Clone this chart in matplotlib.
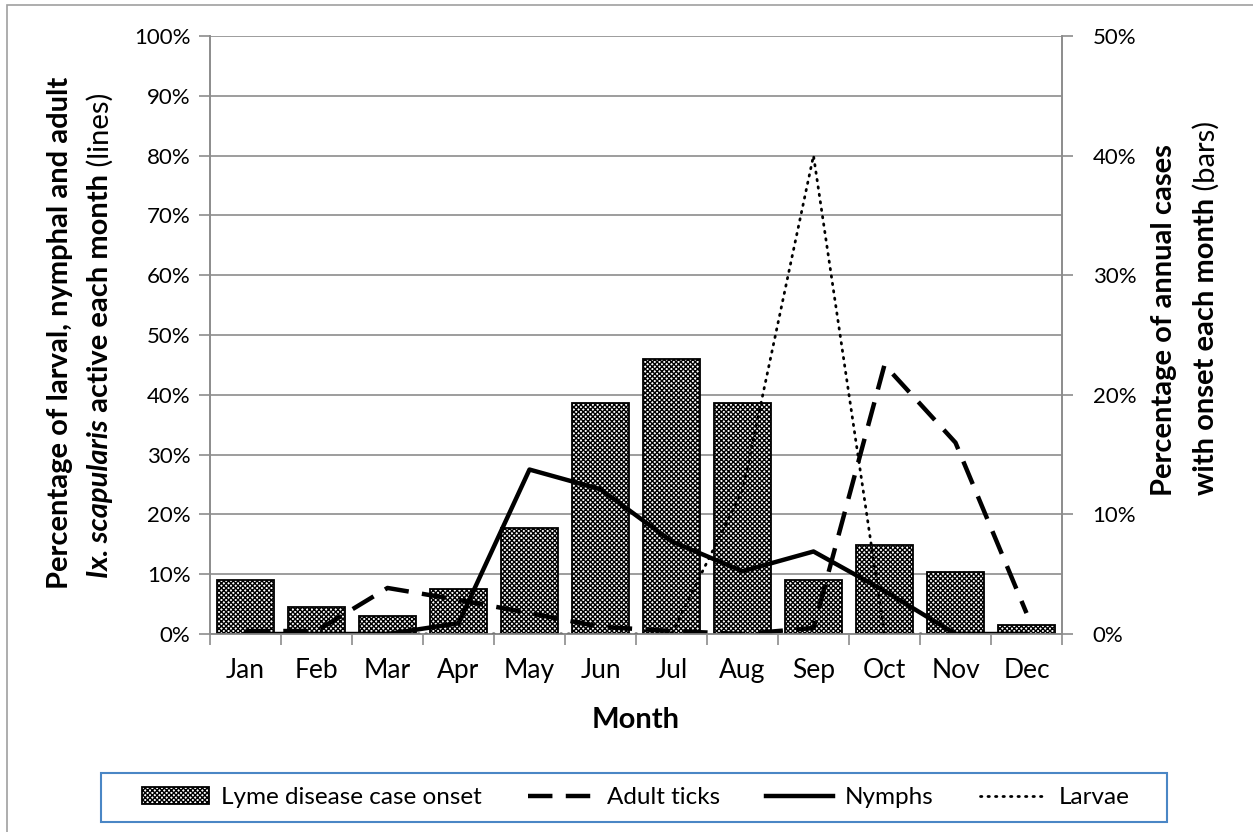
import numpy as np
import matplotlib.pyplot as plt
from matplotlib.patches import Rectangle
from matplotlib.ticker import PercentFormatter

plt.rcParams['font.family'] = ['Lato', 'DejaVu Sans']
plt.rcParams['hatch.linewidth'] = 1.0

months = ['Jan', 'Feb', 'Mar', 'Apr', 'May', 'Jun', 'Jul', 'Aug', 'Sep', 'Oct', 'Nov', 'Dec']
# bars, right axis (share of annual cases)
case_onset = [4.5, 2.25, 1.5, 3.75, 8.9, 19.3, 23.0, 19.3, 4.5, 7.4, 5.2, 0.75]
# lines, left axis (share of ticks active)
adult_ticks = [0.5, 0.5, 7.7, 5.7, 3.5, 1.2, 0.5, 0.0, 1.0, 45.0, 32.0, 3.5]
nymphs = [0.0, 0.0, 0.0, 1.8, 27.5, 24.2, 15.5, 10.5, 13.8, 7.2, 0.0, 0.0]
larvae = [0.0, 0.0, 0.0, 0.0, 0.0, 0.0, 0.0, 24.0, 80.0, 0.0, 0.0, 0.0]

W, H = 1253, 832
fig = plt.figure(figsize=(W / 100, H / 100), dpi=100)
ax = fig.add_axes([210 / W, 1 - 634 / H, 852 / W, 598 / H])
ax2 = ax.twinx()
ax.set_zorder(2)
ax.patch.set_visible(False)

grey = '#8c8c8c'
x = np.arange(len(months))

ax2.bar(x, case_onset, width=0.8, facecolor='white', edgecolor='black',
        hatch='xxxxxxx', linewidth=1.3, zorder=3, label='Lyme disease case onset')
ax2.set_ylim(0, 50)
ax2.set_yticks(np.arange(0, 51, 10))
ax2.set_yticks(np.arange(0, 51, 5), minor=True)
ax2.yaxis.set_major_formatter(PercentFormatter(decimals=0))
ax2.grid(True, which='both', axis='y', color=grey, linewidth=1.2)
ax2.set_axisbelow(True)
ax2.tick_params(axis='y', which='major', direction='out', length=8, color=grey,
                width=1.2, labelsize=16, pad=14)
ax2.tick_params(axis='y', which='minor', length=0)

ax.plot(x, adult_ticks, color='black', lw=3.2, linestyle=(0, (5.5, 3)), label='Adult ticks')
ax.plot(x, nymphs, color='black', lw=3.2, label='Nymphs')
ax.plot(x, larvae, color='black', lw=2.0, linestyle=(0, (0.5, 2.2)),
        dash_capstyle='round', label='Larvae')

ax.set_xlim(-0.5, 11.5)
ax.set_ylim(0, 100)
ax.set_yticks(np.arange(0, 101, 10))
ax.yaxis.set_major_formatter(PercentFormatter(decimals=0))
ax.set_xticks(x)
ax.set_xticklabels(months)
ax.set_xticks(np.arange(-0.5, 12, 1), minor=True)
ax.tick_params(axis='x', which='major', length=0, labelsize=19, pad=17)
ax.tick_params(axis='x', which='minor', direction='out', length=8, color=grey, width=1.2)
ax.tick_params(axis='y', direction='out', length=8, color=grey, width=1.2,
               labelsize=16, pad=6)
ax2.tick_params(axis='x', length=0)

for a in (ax, ax2):
    a.spines['top'].set_visible(False)
    for s in ('left', 'right', 'bottom'):
        a.spines[s].set_color(grey)
        a.spines[s].set_linewidth(1.2)

fig.text(636 / W, 1 - 720 / H, 'Month', fontsize=21, fontweight='bold', ha='center', va='center')


def rich_vertical(parts, xc, yc, size=21):
    # parts read bottom to top, run centred on (xc, yc) in pixels from top-left
    texts = [fig.text(0, 0, s, rotation=90, fontsize=size, fontweight=w, fontstyle=st,
                      ha='center', va='center') for s, w, st in parts]
    r = fig.canvas.get_renderer()
    hs = [t.get_window_extent(r).height for t in texts]
    y = yc + sum(hs) / 2
    for t, h in zip(texts, hs):
        t.set_position((xc / W, 1 - (y - h / 2) / H))
        y -= h


rich_vertical([('Percentage of larval, nymphal and adult', 'bold', 'normal')], 60, 333)
rich_vertical([('Ix. scapularis', 'bold', 'italic'), (' active each month', 'bold', 'normal'),
               (' (lines)', 'normal', 'normal')], 100, 335)
rich_vertical([('Percentage of annual cases', 'bold', 'normal')], 1164, 320)
rich_vertical([('with onset each month', 'bold', 'normal'), (' (bars)', 'normal', 'normal')], 1206, 308)

h1, l1 = ax2.get_legend_handles_labels()
h2, l2 = ax.get_legend_handles_labels()
leg = fig.legend(h1 + h2, l1 + l2, loc='center', ncol=4,
                 bbox_to_anchor=(636 / W, 1 - 797.5 / H),
                 fontsize=17.5, handlelength=2.75, handletextpad=0.5, columnspacing=1.9,
                 frameon=False, borderpad=0.4, borderaxespad=0)
# legend box drawn separately: Excel pads it more on the sides
fig.patches.append(Rectangle((101 / W, 1 - 822 / H), 1066 / W, 49 / H, transform=fig.transFigure,
                             fill=False, edgecolor='#4a86c5', linewidth=1.5))

fig.patches.append(Rectangle((7 / W, -0.05), 1.1, 1 - 5 / H + 0.05, transform=fig.transFigure,
                             fill=False, edgecolor='#a0a0a0', linewidth=1.2))

fig.savefig('out.png', dpi=100)
